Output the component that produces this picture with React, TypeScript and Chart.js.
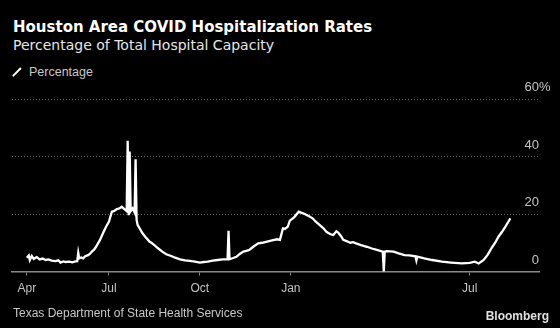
import React, { useEffect, useRef } from "react";
import { Chart, registerables } from "chart.js";

Chart.register(...registerables);

const dates: string[] = [
  "2020-04-09","2020-04-11","2020-04-12","2020-04-14","2020-04-16","2020-04-19","2020-04-22","2020-04-25","2020-04-28","2020-05-01",
  "2020-05-04","2020-05-08","2020-05-11","2020-05-13","2020-05-16","2020-05-18","2020-05-22","2020-05-25","2020-05-28","2020-05-30",
  "2020-05-31","2020-06-01","2020-06-03","2020-06-05","2020-06-07","2020-06-10","2020-06-12","2020-06-14","2020-06-16","2020-06-18",
  "2020-06-20","2020-06-22","2020-06-25","2020-06-28","2020-07-01","2020-07-04","2020-07-06","2020-07-09","2020-07-12","2020-07-14",
  "2020-07-17","2020-07-19","2020-07-20","2020-07-21","2020-07-22","2020-07-23","2020-07-25","2020-07-27","2020-07-28","2020-07-29",
  "2020-07-30","2020-08-02","2020-08-04","2020-08-07","2020-08-11","2020-08-13","2020-08-16","2020-08-20","2020-08-24","2020-08-28",
  "2020-09-02","2020-09-06","2020-09-11","2020-09-16","2020-09-21","2020-09-26","2020-10-01","2020-10-05","2020-10-09","2020-10-14",
  "2020-10-19","2020-10-24","2020-10-29","2020-10-30","2020-10-31","2020-11-03","2020-11-07","2020-11-10","2020-11-14","2020-11-17",
  "2020-11-20","2020-11-24","2020-11-29","2020-12-03","2020-12-08","2020-12-13","2020-12-18","2020-12-21","2020-12-24","2020-12-26",
  "2020-12-29","2020-12-31","2021-01-03","2021-01-05","2021-01-09","2021-01-12","2021-01-15","2021-01-19","2021-01-23","2021-01-26",
  "2021-01-30","2021-02-03","2021-02-06","2021-02-10","2021-02-13","2021-02-16","2021-02-18","2021-02-21","2021-02-23","2021-02-27",
  "2021-03-02","2021-03-05","2021-03-08","2021-03-13","2021-03-19","2021-03-24","2021-03-29","2021-04-04","2021-04-05","2021-04-06",
  "2021-04-08","2021-04-15","2021-04-20","2021-04-26","2021-05-01","2021-05-07","2021-05-08","2021-05-09","2021-05-16","2021-05-24",
  "2021-06-03","2021-06-12","2021-06-23","2021-07-01","2021-07-06","2021-07-10","2021-07-15","2021-07-19","2021-07-23","2021-07-27",
  "2021-07-30","2021-08-03","2021-08-06","2021-08-09","2021-08-11",
];

const percentage: number[] = [
  4.8, 5.6, 4.0, 5.4, 4.4, 5.0, 4.2, 4.5, 4.0, 4.2,
  3.8, 3.6, 3.9, 3.1, 3.5, 3.3, 3.4, 3.2, 3.5, 3.6,
  6.5, 4.6, 4.9, 4.6, 5.3, 5.7, 6.2, 7.0, 7.6, 8.6,
  9.8, 11.0, 13.3, 15.5, 17.3, 20.8, 21.0, 21.7, 22.0, 22.5,
  21.6, 21.0, 45.5, 19.6, 41.7, 21.0, 22.0, 20.5, 39.0, 18.0,
  16.2, 14.5, 13.3, 12.0, 10.4, 10.0, 9.2, 8.0, 6.9, 6.0,
  5.4, 4.8, 4.2, 3.9, 3.7, 3.4, 3.1, 3.3, 3.4, 3.8,
  4.0, 4.2, 4.2, 14.2, 4.3, 4.6, 5.1, 6.0, 6.9, 7.2,
  7.5, 8.6, 9.8, 10.0, 10.4, 10.8, 11.2, 11.0, 15.0, 14.8,
  15.6, 17.7, 18.5, 19.1, 20.8, 20.4, 20.0, 19.3, 18.5, 17.4,
  16.2, 15.0, 13.8, 13.0, 12.7, 14.0, 13.5, 12.2, 11.0, 10.5,
  10.0, 10.2, 9.8, 9.2, 8.6, 8.0, 7.5, 6.9, 0.0, 6.9,
  7.1, 6.9, 6.3, 5.7, 5.6, 5.3, 3.8, 5.2, 4.6, 4.0,
  3.4, 3.1, 2.8, 3.0, 3.4, 2.8, 4.0, 5.8, 8.1, 10.2,
  12.1, 14.0, 15.6, 17.3, 18.5,
];

const tickDates: string[] = ["2020-04-09", "2020-07-01", "2020-10-01", "2021-01-01", "2021-07-01"];
const tickLabels: string[] = ["Apr", "Jul", "Oct", "Jan", "Jul"];
const yTicks: number[] = [0, 20, 40, 60];
const axisStart = "2020-03-25";
const axisEnd = "2021-09-09";

const dayNum = (s: string) => {
  const [y, m, d] = s.split("-").map(Number);
  return Date.UTC(y, m - 1, d) / 86400000;
};

const FONT = "'Liberation Sans', Arial, sans-serif";
const HEAD_FONT = "'DejaVu Sans', sans-serif";

const yLabelPlugin = {
  id: "yLabels",
  afterDraw(chart: any) {
    const { ctx, chartArea, scales } = chart;
    const y = scales.y;
    ctx.save();
    ctx.font = `13px ${FONT}`;
    ctx.fillStyle = "#c4c4c4";
    ctx.textBaseline = "middle";
    yTicks.forEach((v) => {
      const py = y.getPixelForValue(v) - 11.5;
      ctx.textAlign = "right";
      ctx.fillText(String(v), chartArea.right, py);
      if (v === 60) {
        ctx.textAlign = "left";
        ctx.fillText("%", chartArea.right, py);
      }
    });
    ctx.restore();
  },
};

export default function App() {
  const ref = useRef<HTMLCanvasElement | null>(null);
  useEffect(() => {
    if (!ref.current) return;
    const tickNums = tickDates.map(dayNum);
    const chart = new Chart(ref.current, {
      type: "line",
      data: {
        datasets: [
          {
            label: "Percentage",
            data: dates.map((d, i) => ({ x: dayNum(d), y: percentage[i] })),
            borderColor: "#ffffff",
            borderWidth: 2.3,
            pointRadius: 0,
            tension: 0,
            clip: false as any,
          },
        ],
      },
      options: {
        animation: false,
        responsive: false,
        maintainAspectRatio: false,
        events: [],
        layout: { padding: { left: 12, right: 21, top: 99, bottom: 32.5 } },
        plugins: { legend: { display: false }, tooltip: { enabled: false }, title: { display: false } },
        scales: {
          x: {
            type: "linear",
            min: dayNum(axisStart),
            max: dayNum(axisEnd),
            afterBuildTicks: (scale: any) => {
              scale.ticks = tickNums.map((v) => ({ value: v }));
            },
            afterFit: (scale: any) => {
              scale.height = 24;
            },
            ticks: {
              autoSkip: false,
              maxRotation: 0,
              color: "#c4c4c4",
              font: { family: FONT, size: 12 },
              padding: 6,
              callback: (value: any) => {
                const i = tickNums.indexOf(Number(value));
                return i >= 0 ? tickLabels[i] : "";
              },
            },
            grid: { drawOnChartArea: false, drawTicks: true, tickLength: 4, color: "#8a8a8a", lineWidth: 1 },
            border: { display: true, color: "#8a8a8a", width: 1.5 },
          },
          y: {
            position: "right",
            min: 0,
            max: 60,
            afterBuildTicks: (scale: any) => {
              scale.ticks = yTicks.map((v) => ({ value: v }));
            },
            afterFit: (scale: any) => {
              scale.width = 0;
            },
            ticks: { display: false },
            grid: {
              drawTicks: false,
              color: (c: any) => (c.tick && c.tick.value === 0 ? "rgba(0,0,0,0)" : "#6a6a6a"),
              lineWidth: 1,
            },
            border: { display: false, dash: [1, 2] },
          },
        },
      },
      plugins: [yLabelPlugin],
    } as any);
    return () => chart.destroy();
  }, []);

  return (
    <div style={{ position: "fixed", left: 0, top: 0, width: 560, height: 328, background: "#000", overflow: "hidden", fontFamily: FONT }}>
      <div style={{ position: "absolute", left: 13, top: 18, fontFamily: HEAD_FONT, fontSize: 15, fontWeight: 700, color: "#ffffff", whiteSpace: "nowrap", lineHeight: "18px" }}>
        Houston Area COVID Hospitalization Rates
      </div>
      <div style={{ position: "absolute", left: 13, top: 36, fontFamily: HEAD_FONT, fontSize: 14, color: "#e6e6e6", whiteSpace: "nowrap", lineHeight: "18px" }}>
        Percentage of Total Hospital Capacity
      </div>
      <div style={{ position: "absolute", left: 12, top: 64, height: 16, display: "flex", alignItems: "center", whiteSpace: "nowrap" }}>
        <div style={{ width: 10, height: 10, position: "relative", marginRight: 7 }}>
          <div style={{ position: "absolute", left: -1, top: 4, width: 12, height: 2.4, background: "#fff", transform: "rotate(-45deg)", borderRadius: 1 }} />
        </div>
        <span style={{ fontSize: 12.5, color: "#c8c8c8" }}>Percentage</span>
      </div>
      <canvas ref={ref} width={560} height={328} style={{ position: "absolute", left: 0, top: 0, width: 560, height: 328 }} />
      <div style={{ position: "absolute", left: 13, top: 305, fontSize: 12, color: "#c8c8c8", whiteSpace: "nowrap", lineHeight: "16px" }}>
        Texas Department of State Health Services
      </div>
      <div style={{ position: "absolute", right: 11, top: 308, fontSize: 12, fontWeight: 700, color: "#e0e0e0", whiteSpace: "nowrap", lineHeight: "16px" }}>
        Bloomberg
      </div>
    </div>
  );
}
